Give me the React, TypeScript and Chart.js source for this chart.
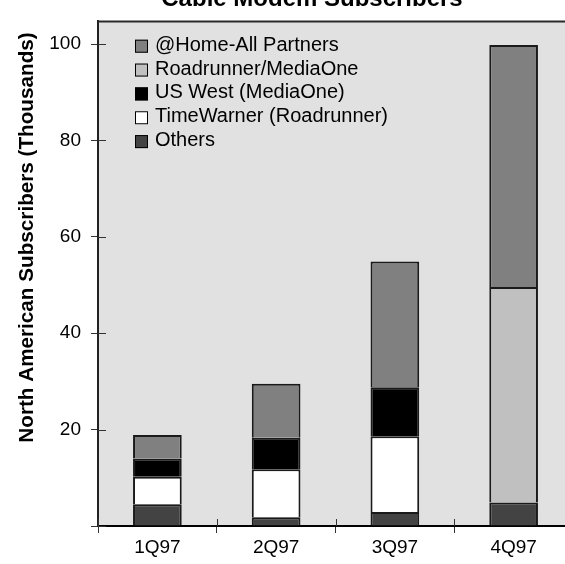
import React, { useEffect, useRef } from "react";
import { Chart, registerables } from "chart.js";

Chart.register(...registerables);

const categories = ["1Q97", "2Q97", "3Q97", "4Q97"];
const others = [4.5, 1.8, 2.9, 4.9];
const timeWarner = [5.7, 10.0, 15.7, null];
const usWest = [3.8, 6.5, 10.2, null];
const roadrunnerMediaOne = [null, null, null, 44.7];
const homeAllPartners = [4.9, 11.2, 26.1, 50.2];
const yTickValues = [0, 20, 40, 60, 80, 100];

const TITLE = "Cable Modem Subscribers";
const Y_TITLE = "North American Subscribers (Thousands)";
const FONT = "'Liberation Sans', Arial, sans-serif";
const PLOT_BG = "#e1e1e1";
const EDGE = "#1a1a1a";

const decor = {
  id: "decor",
  beforeDraw(chart: any) {
    const { ctx, chartArea: a } = chart;
    ctx.save();
    ctx.fillStyle = "#ffffff";
    ctx.fillRect(0, 0, chart.width, chart.height);
    ctx.fillStyle = PLOT_BG;
    ctx.fillRect(a.left, a.top, a.right - a.left, a.bottom - a.top);
    ctx.restore();
  },
  afterDraw(chart: any) {
    const { ctx, chartArea: a } = chart;
    const xs = chart.scales.x;
    const ys = chart.scales.y;
    ctx.save();
    // top & right frame
    ctx.strokeStyle = "#2a2a2a";
    ctx.lineWidth = 2;
    ctx.beginPath();
    ctx.moveTo(a.left, a.top);
    ctx.lineTo(a.right, a.top);
    ctx.lineTo(a.right, a.bottom);
    ctx.stroke();
    // inner tick parts
    ctx.strokeStyle = "#333";
    ctx.lineWidth = 1;
    ys.ticks.forEach((t: any) => {
      const y = Math.round(ys.getPixelForValue(t.value)) + 0.5;
      ctx.beginPath();
      ctx.moveTo(a.left, y);
      ctx.lineTo(a.left + 8, y);
      ctx.stroke();
    });
    const step = xs.getPixelForValue(1) - xs.getPixelForValue(0);
    for (let i = 0; i <= categories.length; i++) {
      const x = Math.round(xs.getPixelForValue(i) - step / 2) + 0.5;
      ctx.beginPath();
      ctx.moveTo(x, a.bottom);
      ctx.lineTo(x, a.bottom - 7);
      ctx.stroke();
    }
    // legend
    const ds = chart.data.datasets.slice().reverse();
    ctx.font = `20px ${FONT}`;
    ctx.textBaseline = "alphabetic";
    ctx.textAlign = "left";
    ds.forEach((d: any, i: number) => {
      const base = 50.7 + i * 23.85;
      ctx.fillStyle = d.backgroundColor;
      ctx.fillRect(135, base - 11, 13, 13);
      ctx.strokeStyle = "#000";
      ctx.lineWidth = 1;
      ctx.strokeRect(135.5, base - 10.5, 12, 12);
      ctx.fillStyle = "#000";
      ctx.fillText(d.label, 155, base);
    });
    // chart title (cut off at top)
    ctx.font = `bold 24px ${FONT}`;
    ctx.textAlign = "center";
    ctx.fillText(TITLE, 312, 5.5);
    // y axis title
    ctx.translate(33, 237.5);
    ctx.rotate(-Math.PI / 2);
    ctx.font = `bold 20.7px ${FONT}`;
    ctx.textAlign = "center";
    ctx.textBaseline = "alphabetic";
    ctx.fillText(Y_TITLE, 0, 0);
    ctx.restore();
  },
};

export default function App() {
  const ref = useRef<HTMLCanvasElement | null>(null);
  useEffect(() => {
    if (!ref.current) return;
    const common = {
      borderColor: EDGE,
      borderWidth: 2,
      barPercentage: 0.41,
      categoryPercentage: 1,
    };
    const chart = new Chart(ref.current, {
      type: "bar",
      data: {
        labels: categories,
        datasets: [
          { label: "Others", data: others, backgroundColor: "#434343", ...common },
          { label: "TimeWarner (Roadrunner)", data: timeWarner, backgroundColor: "#ffffff", ...common },
          { label: "US West (MediaOne)", data: usWest, backgroundColor: "#000000", ...common },
          { label: "Roadrunner/MediaOne", data: roadrunnerMediaOne, backgroundColor: "#c0c0c0", ...common },
          { label: "@Home-All Partners", data: homeAllPartners, backgroundColor: "#808080", ...common },
        ],
      },
      options: {
        responsive: false,
        animation: false,
        devicePixelRatio: 1,
        layout: { padding: { top: 15, right: 2, left: 0, bottom: 0 } },
        plugins: { legend: { display: false }, title: { display: false }, tooltip: { enabled: false } },
        scales: {
          x: {
            stacked: true,
            offset: true,
            grid: { offset: true, drawOnChartArea: false, drawTicks: true, tickLength: 7, color: "#333", lineWidth: 1 },
            border: { display: true, color: "#000", width: 2 },
            ticks: { color: "#000", font: { family: FONT, size: 19 }, padding: 3, maxRotation: 0 },
            afterFit: (s: any) => { s.height = 38; },
          },
          y: {
            stacked: true,
            min: 0,
            max: 104.7,
            grid: { drawOnChartArea: false, drawTicks: true, tickLength: 7, color: "#333", lineWidth: 1 },
            border: { display: true, color: "#222", width: 2 },
            ticks: {
              color: "#000",
              font: { family: FONT, size: 19 },
              padding: 10,
              stepSize: 20,
              callback: (v: any) => (v === 0 ? "" : String(v)),
            },
            afterBuildTicks: (s: any) => { s.ticks = yTickValues.map((v) => ({ value: v })); },
            afterFit: (s: any) => { s.width = 98; },
          },
        },
      },
      plugins: [decor],
    });
    return () => chart.destroy();
  }, []);
  return (
    <div style={{ position: "fixed", left: 0, top: 0, width: 565, height: 564, overflow: "hidden", background: "#fff" }}>
      <canvas ref={ref} width={575} height={564} style={{ display: "block", width: 575, height: 564 }} />
    </div>
  );
}
